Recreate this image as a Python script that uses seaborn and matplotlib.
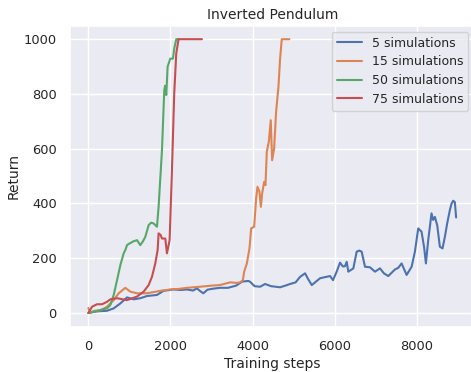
import numpy as np
import pandas as pd
import matplotlib
matplotlib.use("Agg")
import matplotlib.pyplot as plt
import seaborn as sns

labels = ["5 simulations", "15 simulations", "50 simulations", "75 simulations"]

x5 = [0, 150, 300, 450, 617, 779, 941, 1103, 1265, 1427, 1671, 1833, 2076, 2250, 2400, 2550,
      2644, 2725, 2800, 2900, 3000, 3200, 3400, 3600, 3750, 3900, 3940, 4050, 4185, 4306, 4450,
      4670, 4800, 4915, 5050, 5158, 5280, 5350, 5443, 5645, 5888, 5960, 6050, 6131, 6200, 6253,
      6294, 6334, 6456, 6537, 6600, 6659, 6740, 6861, 6983, 7105, 7200, 7307, 7470, 7550, 7632,
      7754, 7876, 7956, 8037, 8118, 8180, 8224, 8280, 8361, 8400, 8443, 8500, 8564, 8629, 8686,
      8742, 8808, 8850, 8889, 8929, 8960]
y5 = [0, 5, 7, 8, 17, 35, 57, 50, 54, 62, 66, 81, 86, 84, 86, 82,
      90, 80, 72, 85, 88, 92, 92, 100, 115, 117, 114, 98, 96, 106, 98,
      94, 100, 106, 112, 132, 145, 125, 102, 127, 135, 120, 151, 184, 170, 171,
      187, 151, 163, 224, 228, 224, 169, 167, 151, 163, 145, 135, 159, 165, 181,
      139, 169, 224, 309, 297, 240, 181, 266, 364, 340, 351, 320, 242, 236, 278,
      327, 376, 400, 410, 405, 349]

x15 = [0, 40, 150, 300, 455, 617, 738, 900, 1022, 1184, 1427, 1752, 1995, 2200, 2400, 2725,
       3000, 3200, 3455, 3600, 3700, 3764, 3796, 3861, 3925, 3966, 4039, 4088, 4120, 4169, 4202,
       4234, 4282, 4315, 4347, 4396, 4444, 4477, 4526, 4574, 4631, 4671, 4712, 4898]
y15 = [18, 2, 8, 10, 23, 47, 72, 92, 78, 72, 72, 81, 86, 88, 92, 96,
       100, 102, 112, 110, 112, 120, 151, 181, 236, 309, 315, 419, 461, 443, 388,
       437, 479, 467, 589, 625, 704, 558, 601, 735, 826, 929, 1000, 1000]

x50 = [0, 150, 292, 455, 535, 617, 698, 779, 860, 900, 941, 981, 1100, 1184, 1265, 1330, 1387,
       1468, 1530, 1590, 1671, 1711, 1793, 1849, 1870, 1898, 1930, 1995, 2060, 2092, 2141, 2200]
y50 = [0, 5, 11, 17, 29, 66, 120, 175, 218, 230, 248, 252, 262, 266, 248, 262, 278,
       321, 330, 327, 315, 388, 595, 814, 830, 796, 899, 929, 929, 966, 1000, 1000]

x75 = [0, 90, 211, 333, 455, 535, 698, 941, 1184, 1346, 1468, 1549, 1630, 1687, 1711, 1760,
       1793, 1873, 1914, 1979, 2036, 2092, 2141, 2197, 2766]
y75 = [0, 23, 32, 32, 41, 50, 54, 47, 60, 78, 102, 132, 181, 230, 291, 285,
       272, 272, 218, 266, 522, 803, 948, 1000, 1000]

series_x = [x5, x15, x50, x75]
series_y = [y5, y15, y50, y75]

sns.set_theme(style="darkgrid")
plt.rcParams["font.family"] = ["DejaVu Sans"]

fig = plt.figure(figsize=(4.71, 3.72), dpi=100)
ax = fig.add_axes([70 / 471, 45.3 / 372, 404.5 / 471, 301.2 / 372])
palette = sns.color_palette("deep")
for i, (xs, ys, lab) in enumerate(zip(series_x, series_y, labels)):
    sns.lineplot(x=xs, y=ys, ax=ax, label=lab, color=palette[i], linewidth=1.5,
                 estimator=None, sort=False)

ax.set_title("Inverted Pendulum", fontsize=10, pad=5)
ax.set_xlabel("Training steps", fontsize=10, labelpad=3)
ax.set_ylabel("Return", fontsize=10, labelpad=2)
ax.tick_params(labelsize=9.4)
ax.set_xticks([0, 2000, 4000, 6000, 8000])
ax.set_yticks([0, 200, 400, 600, 800, 1000])
ax.legend(loc="upper right", fontsize=9, handlelength=2.0, labelspacing=0.45)
fig.savefig("out.png", dpi=100)
